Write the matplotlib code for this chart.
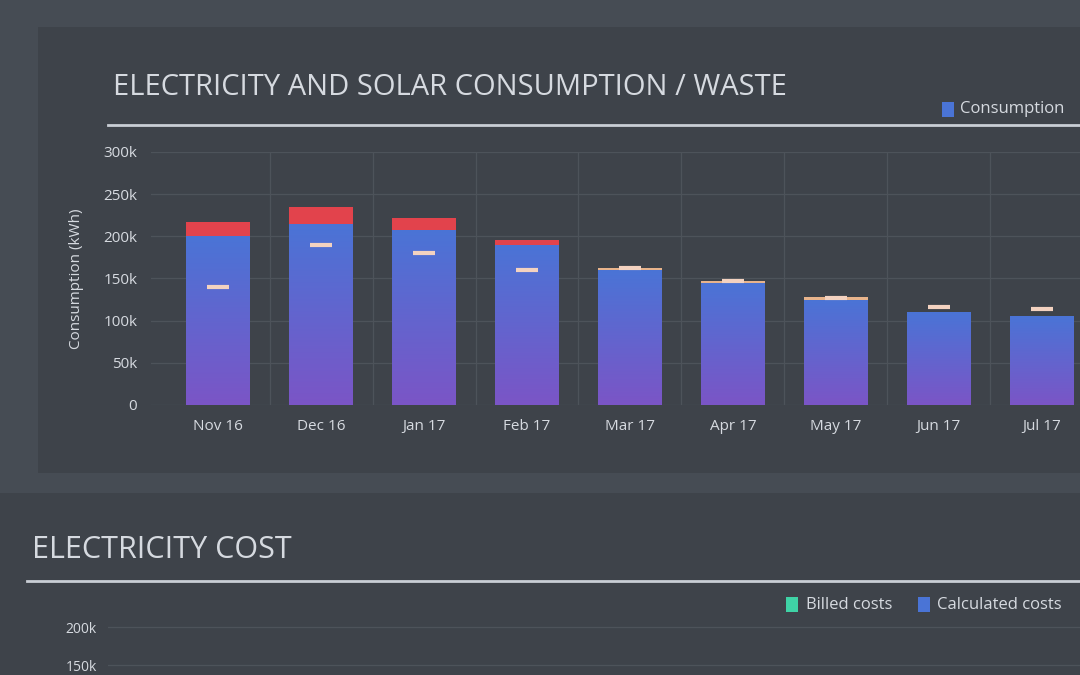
import numpy as np
import matplotlib
matplotlib.use("Agg")
import matplotlib.pyplot as plt
from matplotlib.patches import Rectangle
from matplotlib.colors import LinearSegmentedColormap
from matplotlib.lines import Line2D

plt.rcParams['font.family'] = ['Open Sans', 'DejaVu Sans']

# ---- data ----
months = ["Nov 16", "Dec 16", "Jan 17", "Feb 17", "Mar 17", "Apr 17", "May 17", "Jun 17", "Jul 17"]
consumption = [200000, 215000, 208000, 190000, 160000, 145000, 125000, 110000, 105000]
waste = [17000, 20000, 14000, 6000, 2500, 2500, 2500, 0, 0]
solar = [140000, 190000, 180000, 160000, 162000, 147000, 127000, 116000, 114000]
yticks = [0, 50000, 100000, 150000, 200000, 250000, 300000]
ytick_labels = ["0", "50k", "100k", "150k", "200k", "250k", "300k"]
cost_ticks = [150000, 200000]
cost_tick_labels = ["150k", "200k"]

BG = "#464c54"
PANEL = "#3e434a"
TXT = "#d6dae0"
GRID = "#4d535a"
BLUE_TOP = "#4a74d6"
PURPLE_BOT = "#7b55c6"
RED = "#e2434c"
CAP = "#e8b48c"
MARK = "#f3d2c0"

fig = plt.figure(figsize=(10.8, 6.75), dpi=100, facecolor=BG)

# panels (behind everything)
p1 = Rectangle((0.035, 0.30), 0.97, 0.66, transform=fig.transFigure,
               facecolor=PANEL, edgecolor="none", zorder=-10)
p2 = Rectangle((0.0, 0.0), 1.0, 0.27, transform=fig.transFigure,
               facecolor=PANEL, edgecolor="none", zorder=-10)
fig.add_artist(p1)
fig.add_artist(p2)

# title + rule
fig.text(0.105, 0.87, "ELECTRICITY AND SOLAR CONSUMPTION / WASTE", color=TXT,
         fontsize=21, fontweight="medium", ha="left", va="center")
fig.add_artist(Line2D([0.10, 1.0], [0.815, 0.815], transform=fig.transFigure,
                      color="#c9ced5", lw=2))
# legend
fig.add_artist(Rectangle((0.872, 0.827), 0.011, 0.022, transform=fig.transFigure,
                         facecolor=BLUE_TOP, edgecolor="none"))
fig.text(0.889, 0.838, "Consumption", color=TXT, fontsize=12, ha="left", va="center")

# ---- main chart ----
ax = fig.add_axes([0.14, 0.40, 0.92, 0.375])
ax.set_facecolor(PANEL)
x = np.arange(len(months))
width = 0.62
bars = ax.bar(x, consumption, width=width, color=BLUE_TOP, zorder=2)

cmap = LinearSegmentedColormap.from_list("bp", [PURPLE_BOT, BLUE_TOP])
grad = np.linspace(0, 1, 256).reshape(-1, 1)
ax.set_xlim(-0.65, 9.0)
ax.set_ylim(0, 300000)
for b in bars:
    im = ax.imshow(grad, cmap=cmap, origin="lower", aspect="auto",
                   extent=[b.get_x(), b.get_x() + b.get_width(), 0, b.get_height()],
                   zorder=3)
    im.set_clip_path(b)

wcolors = [RED if w > 5000 else CAP for w in waste]
ax.bar(x, waste, width=width, bottom=consumption, color=wcolors, zorder=4)
ax.plot(x, solar, linestyle="none", marker="_", ms=16, mew=3, color=MARK, zorder=5)

ax.set_xlim(-0.65, 9.0)
ax.set_ylim(0, 300000)
ax.set_yticks(yticks)
ax.set_yticklabels(ytick_labels)
ax.set_xticks(x)
ax.set_xticklabels(months)
ax.set_xticks(x + 0.5, minor=True)
ax.tick_params(colors=TXT, labelsize=11, length=0, pad=10)
ax.tick_params(which="minor", length=0)
ax.set_ylabel("Consumption (kWh)", color=TXT, fontsize=11, labelpad=14)
ax.grid(True, axis="y", color=GRID, lw=0.9, zorder=0)
ax.grid(True, axis="x", which="minor", color=GRID, lw=0.9, zorder=0)
ax.set_axisbelow(True)
for s in ax.spines.values():
    s.set_visible(False)

# ---- second panel: electricity cost ----
fig.text(0.03, 0.185, "ELECTRICITY COST", color=TXT, fontsize=22, fontweight="medium",
         ha="left", va="center")
fig.add_artist(Line2D([0.025, 1.0], [0.14, 0.14], transform=fig.transFigure,
                      color="#c9ced5", lw=2))
fig.add_artist(Rectangle((0.728, 0.093), 0.011, 0.022, transform=fig.transFigure,
                         facecolor="#3fd3a6", edgecolor="none"))
fig.text(0.746, 0.104, "Billed costs", color=TXT, fontsize=12, ha="left", va="center")
fig.add_artist(Rectangle((0.850, 0.093), 0.011, 0.022, transform=fig.transFigure,
                         facecolor=BLUE_TOP, edgecolor="none"))
fig.text(0.868, 0.104, "Calculated costs", color=TXT, fontsize=12, ha="left", va="center")

ax2 = fig.add_axes([0.10, 0.0, 0.95, 0.085])
ax2.set_facecolor(PANEL)
ax2.set_ylim(137500, 212500)
ax2.set_yticks(cost_ticks)
ax2.set_yticklabels(cost_tick_labels)
ax2.set_xticks([])
ax2.tick_params(colors=TXT, labelsize=10, length=0, pad=8)
ax2.grid(True, axis="y", color=GRID, lw=0.9)
for s in ax2.spines.values():
    s.set_visible(False)

fig.savefig("out.png", dpi=100, facecolor=BG)
